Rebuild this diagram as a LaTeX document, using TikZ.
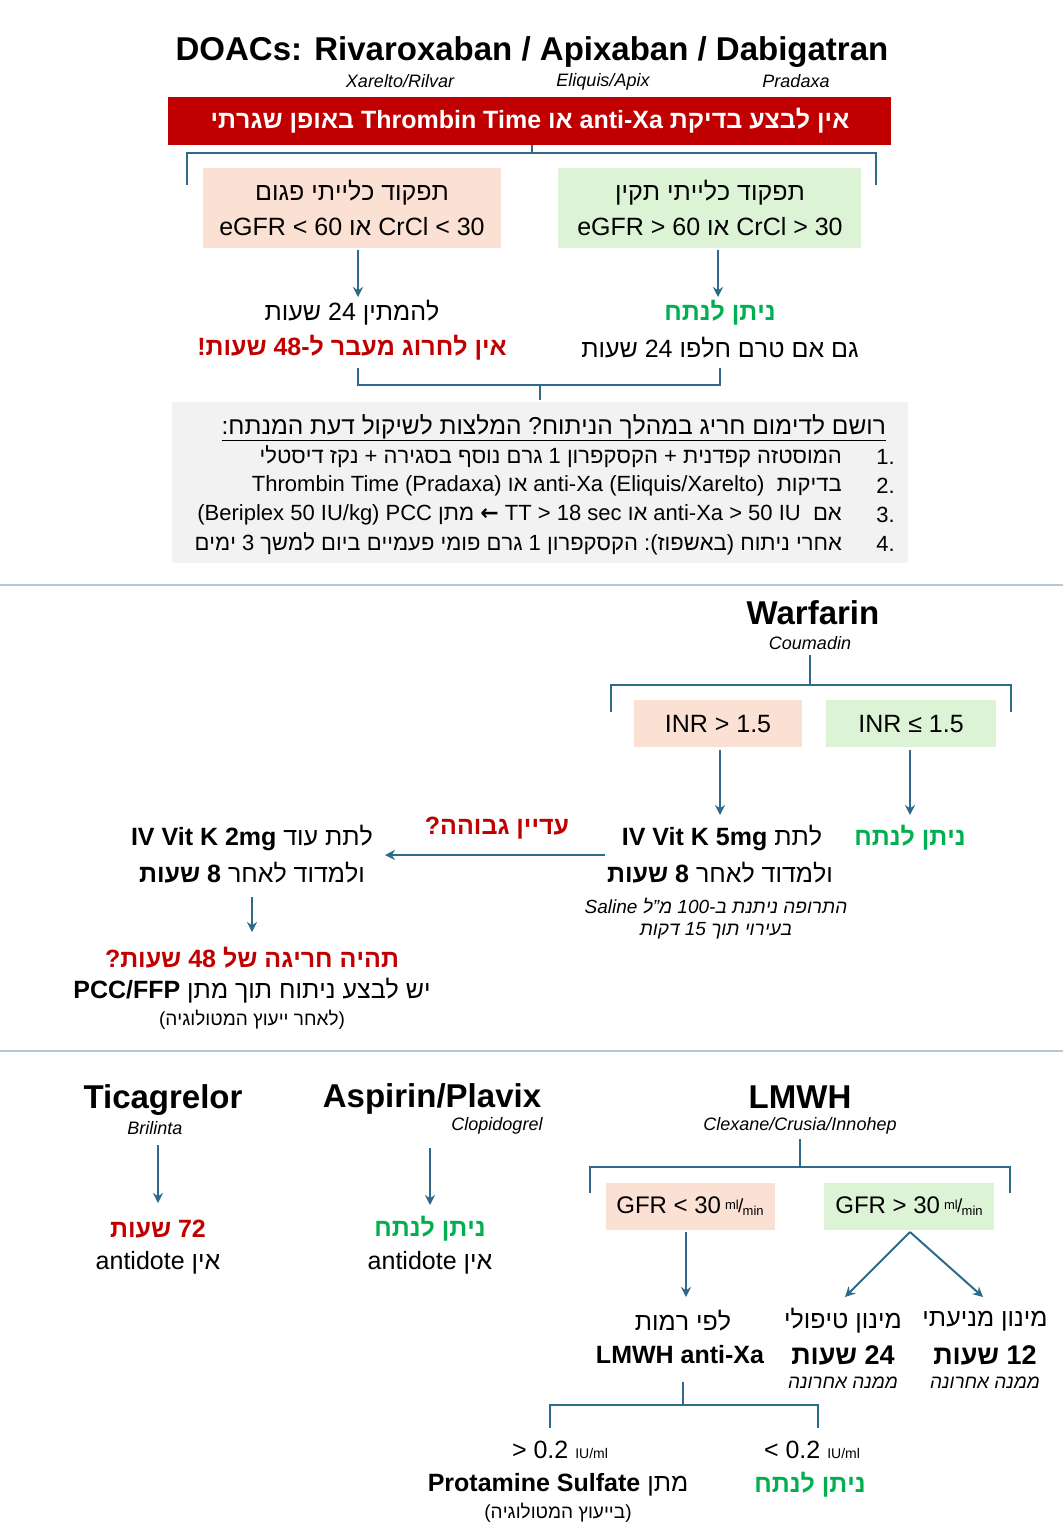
\documentclass[tikz,border=0pt]{standalone}
\usepackage{fontspec}
\setmainfont{Liberation Sans}
\newfontfamily\dejavu{DejaVu Sans}
\TeXXeTstate=1
\newcommand\rl[1]{\beginR#1\endR}
\newcommand\lr[1]{\beginL#1\endL}
\newcommand\hb[1]{\hbox{#1}}
\definecolor{dred}{HTML}{C00000}
\definecolor{dgreen}{HTML}{00B050}
\definecolor{lblue}{HTML}{2E6A8A}
\definecolor{peach}{HTML}{FBE0D4}
\definecolor{lgreen}{HTML}{DDF3D6}
\definecolor{gbox}{HTML}{F2F2F2}
\definecolor{sep}{HTML}{B4C8DA}
\newcommand\fs[2]{\fontsize{#1}{#2}\selectfont}
\newcommand\mlmin{\,{\fs{13}{13}\raisebox{0.6ex}{ml}\kern-0.05em\raisebox{0.1ex}{\fs{19}{19}/}\kern-0.05em\raisebox{-0.3ex}{min}}}
\tikzset{
 conn/.style={draw=lblue,line width=2pt},
 arr/.style={conn,-{Stealth[length=10pt,width=10pt]}},
 txt/.style={inner sep=0pt,font=\fs{25}{29}},
 btxt/.style={inner sep=0pt,font=\fs{25}{29}\bfseries},
 ttl/.style={inner sep=0pt,font=\fs{33}{36}\bfseries},
 sub/.style={inner sep=0pt,font=\fs{18}{20}\itshape},
 small/.style={inner sep=0pt,font=\fs{19}{22}},
 note/.style={inner sep=0pt,font=\fs{19}{22}\itshape},
}
\usetikzlibrary{arrows.meta}
\begin{document}
\begin{tikzpicture}[x=1pt,y=-1pt]
\useasboundingbox[fill=white] (0,0) rectangle (1063,1536);
% ===== DOACs
\node[ttl] (t1) at (532,52) {DOACs: Rivaroxaban / Apixaban / Dabigatran};
\node[sub] (s1) at (400,81) {Xarelto/Rilvar};
\node[sub] (s2) at (603,82) {Eliquis/Apix};
\node[sub] (s3) at (796,81) {Pradaxa};
\fill[dred] (168,97) rectangle (891,145);
\node[inner sep=0pt,text=white,font=\fs{25}{29}\bfseries] (bar) at (530,121) {\rl{אין לבצע בדיקת \lr{anti-Xa} או \lr{Thrombin Time} באופן שגרתי}};
\coordinate (b0) at (532,145); \coordinate (b1) at (532,153);
\draw[conn] (b0)--(b1);
\coordinate (bl) at (187,185); \coordinate (br) at (876,185);
\draw[conn] (bl)|-(b1)-|(br);
\fill[peach] (203,168) rectangle (501,248);
\fill[lgreen] (558,168) rectangle (861,248);
\node[txt] (k1) at (352,193) {\rl{תפקוד כלייתי פגום}};
\node[txt] (k2) at (352,227) {\rl{\lr{CrCl < 30} או \lr{eGFR < 60}}};
\node[txt] (k3) at (710,193) {\rl{תפקוד כלייתי תקין}};
\node[txt] (k4) at (710,227) {\rl{\lr{CrCl > 30} או \lr{eGFR > 60}}};
\coordinate (a1) at (358,250); \coordinate (a1e) at (358,297);
\coordinate (a2) at (718,250); \coordinate (a2e) at (718,297);
\draw[arr] (a1)--(a1e); \draw[arr] (a2)--(a2e);
\node[txt] (w1) at (352,313) {\rl{להמתין 24 שעות}};
\node[btxt,text=dred] (w2) at (352,348) {\rl{אין לחרוג מעבר ל-48 שעות\hb{!}}};
\node[btxt,text=dgreen] (w3) at (720,313) {\rl{ניתן לנתח}};
\node[txt] (w4) at (720,348) {\rl{גם אם טרם חלפו 24 שעות}};
\coordinate (c1) at (358,368); \coordinate (c2) at (720,368);
\coordinate (c3) at (540,385); \coordinate (c4) at (540,400);
\draw[conn] (c1)|-(c3)-|(c2); \draw[conn] (c3)--(c4);
\fill[gbox] (172,402) rectangle (908,563);
\node[inner sep=0pt,anchor=east,font=\fs{24.5}{28}] (g0) at (886,428) {\underline{\rl{רושם לדימום חריג במהלך הניתוח\hb{?} המלצות לשיקול דעת המנתח\hb{:}}}};
\begin{scope}[every node/.style={inner sep=0pt,font=\fs{22}{26}}]
\node[anchor=east] (n1) at (895,457) {1.};
\node[anchor=east] (n2) at (895,486) {2.};
\node[anchor=east] (n3) at (895,515) {3.};
\node[anchor=east] (n4) at (895,544) {4.};
\node[anchor=east] (i1) at (842,457) {\rl{המוסטזה קפדנית + הקסקפרון 1 גרם נוסף בסגירה + נקז דיסטלי}};
\node[anchor=east] (i2) at (842,486) {\rl{בדיקות \ \lr{anti-Xa (Eliquis/Xarelto)} או \lr{Thrombin Time (Pradaxa)}}};
\node[anchor=east] (i3) at (842,515) {\rl{אם \ \lr{anti-Xa > 50 IU} או \lr{TT > 18 sec} \hb{\dejavu\bfseries ←} מתן \lr{PCC} \hb{)}\lr{Beriplex 50 IU/kg}\hb{(}}};
\node[anchor=east] (i4) at (842,544) {\rl{אחרי ניתוח \hb{)}באשפוז\hb{(}\hb{:} הקסקפרון 1 גרם פומי פעמיים ביום למשך 3 ימים}};
\end{scope}
\coordinate (sp1) at (0,585); \coordinate (sp2) at (1063,585);
\draw[sep,line width=2pt] (sp1)--(sp2);
% ===== Warfarin
\node[ttl] (wt) at (813,613) {Warfarin};
\node[sub] (ws) at (810,643) {Coumadin};
\coordinate (d0) at (810,655); \coordinate (d1) at (810,685);
\coordinate (dl) at (611,712); \coordinate (dr) at (1011,712);
\draw[conn] (d0)--(d1); \draw[conn] (dl)|-(d1)-|(dr);
\fill[peach] (634,700) rectangle (802,747);
\fill[lgreen] (826,700) rectangle (996,747);
\node[txt] (inr1) at (718,724) {INR > 1.5};
\node[txt] (inr2) at (911,724) {INR ≤ 1.5};
\coordinate (e1) at (720,750); \coordinate (e1e) at (720,815);
\coordinate (e2) at (910,750); \coordinate (e2e) at (910,815);
\draw[arr] (e1)--(e1e); \draw[arr] (e2)--(e2e);
\node[btxt,text=dgreen] (wn) at (910,838) {\rl{ניתן לנתח}};
\node[txt] (v1) at (722,838) {\rl{לתת \textbf{\lr{IV Vit K 5mg}}}};
\node[txt] (v2) at (720,873) {\rl{ולמדוד לאחר \textbf{8 שעות}}};
\node[note] (v3) at (716,906) {\rl{התרופה ניתנת ב-100 מ"ל \lr{Saline}}};
\node[note] (v4) at (716,931) {\rl{בעירוי תוך 15 דקות}};
\coordinate (h1) at (605,855); \coordinate (h2) at (385,855);
\draw[arr] (h1)--(h2);
\node[btxt,text=dred] (hl) at (497,828) {\rl{עדיין גבוהה\hb{?}}};
\node[txt] (u1) at (252,838) {\rl{לתת עוד \textbf{\lr{IV Vit K 2mg}}}};
\node[txt] (u2) at (252,873) {\rl{ולמדוד לאחר \textbf{8 שעות}}};
\coordinate (f1) at (252,897); \coordinate (f2) at (252,932);
\draw[arr] (f1)--(f2);
\node[btxt,text=dred] (u3) at (252,958) {\rl{תהיה חריגה של 48 שעות\hb{?}}};
\node[txt] (u4) at (252,991) {\rl{יש לבצע ניתוח תוך מתן \textbf{\lr{PCC/FFP}}}};
\node[small] (u5) at (252,1020) {\rl{\hb{)}לאחר ייעוץ המטולוגיה\hb{(}}};
\coordinate (sq1) at (0,1051); \coordinate (sq2) at (1063,1051);
\draw[sep,line width=2pt] (sq1)--(sq2);
% ===== bottom
\node[ttl] (tic) at (163,1100) {Ticagrelor};
\node[sub] (tics) at (155,1128) {Brilinta};
\coordinate (m1) at (158,1145); \coordinate (m1e) at (158,1203);
\draw[arr] (m1)--(m1e);
\node[btxt,text=dred] (tr1) at (158,1229) {\rl{72 שעות}};
\node[txt] (tr2) at (158,1263) {\rl{אין \lr{antidote}}};
\node[ttl] (asp) at (432,1099) {Aspirin/Plavix};
\node[sub] (asps) at (497,1126) {Clopidogrel};
\coordinate (m2) at (430,1148); \coordinate (m2e) at (430,1205);
\draw[arr] (m2)--(m2e);
\node[btxt,text=dgreen] (ar1) at (430,1229) {\rl{ניתן לנתח}};
\node[txt] (ar2) at (430,1263) {\rl{אין \lr{antidote}}};
\node[ttl] (lm) at (800,1097) {LMWH};
\node[sub] (lms) at (800,1126) {Clexane/Crusia/Innohep};
\coordinate (l0) at (800,1139); \coordinate (l1) at (800,1167);
\coordinate (ll) at (590,1193); \coordinate (lr) at (1010,1193);
\draw[conn] (l0)--(l1); \draw[conn] (ll)|-(l1)-|(lr);
\fill[peach] (606,1183) rectangle (775,1230);
\fill[lgreen] (824,1183) rectangle (994,1230);
\node[inner sep=0pt,font=\fs{24}{28}] (gf1) at (690,1206) {GFR < 30\mlmin};
\node[inner sep=0pt,font=\fs{24}{28}] (gf2) at (909,1206) {GFR > 30\mlmin};
\coordinate (o1) at (686,1232); \coordinate (o1e) at (686,1297);
\coordinate (o2) at (910,1232); \coordinate (o2a) at (845,1297); \coordinate (o2b) at (983,1297);
\draw[arr] (o1)--(o1e); \draw[arr] (o2)--(o2a); \draw[arr] (o2)--(o2b);
\node[txt] (p1) at (683,1321) {\rl{לפי רמות}};
\node[btxt] (p2) at (680,1355) {LMWH anti-Xa};
\node[txt] (q1) at (843,1321) {\rl{מינון טיפולי}};
\node[inner sep=0pt,font=\fs{27}{30}\bfseries] (q2) at (843,1355) {\rl{24 שעות}};
\node[note] (q3) at (843,1383) {\rl{ממנה אחרונה}};
\node[txt] (r1) at (985,1321) {\rl{מינון מניעתי}};
\node[inner sep=0pt,font=\fs{27}{30}\bfseries] (r2) at (985,1355) {\rl{12 שעות}};
\node[note] (r3) at (985,1383) {\rl{ממנה אחרונה}};
\coordinate (x0) at (683,1382); \coordinate (x1) at (683,1405);
\coordinate (xl) at (550,1428); \coordinate (xr) at (818,1428);
\draw[conn] (x0)--(x1); \draw[conn] (xl)|-(x1)-|(xr);
\node[txt] (y1) at (560,1450) {> 0.2 {\fs{14}{16}IU/ml}};
\node[txt] (y2) at (812,1450) {< 0.2 {\fs{14}{16}IU/ml}};
\node[txt] (y3) at (558,1485) {\rl{מתן \textbf{\lr{Protamine Sulfate}}}};
\node[small] (y4) at (558,1513) {\rl{\hb{)}בייעוץ המטולוגיה\hb{(}}};
\node[btxt,text=dgreen] (y5) at (810,1485) {\rl{ניתן לנתח}};
\end{tikzpicture}
\end{document}
